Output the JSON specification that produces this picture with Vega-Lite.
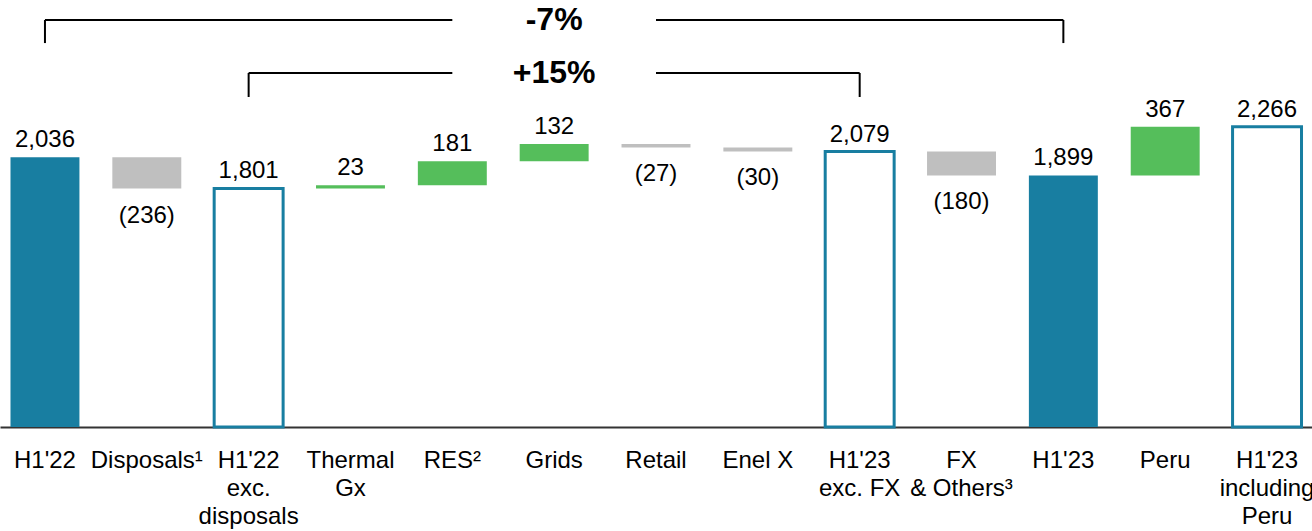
{
  "$schema": "https://vega.github.io/schema/vega-lite/v6.json",
  "width": 1312,
  "height": 427,
  "padding": {"left": 0, "top": 0, "right": 0, "bottom": 104},
  "autosize": {"type": "none"},
  "config": {"view": {"stroke": null}, "font": "Liberation Sans"},
  "datasets": {
    "bars": [
      {"cat": "H1'22", "start": 0, "end": 2036, "kind": "total", "label": "2,036"},
      {"cat": "Disposals¹", "start": 2036, "end": 1800, "kind": "down", "label": "(236)"},
      {"cat": "H1'22|exc.|disposals", "start": 0, "end": 1801, "kind": "outline", "label": "1,801"},
      {"cat": "Thermal|Gx", "start": 1801, "end": 1824, "kind": "up", "label": "23"},
      {"cat": "RES²", "start": 1824, "end": 2005, "kind": "up", "label": "181"},
      {"cat": "Grids", "start": 2005, "end": 2137, "kind": "up", "label": "132"},
      {"cat": "Retail", "start": 2137, "end": 2110, "kind": "down", "label": "(27)"},
      {"cat": "Enel X", "start": 2110, "end": 2080, "kind": "down", "label": "(30)"},
      {"cat": "H1'23|exc. FX", "start": 0, "end": 2079, "kind": "outline", "label": "2,079"},
      {"cat": "FX|& Others³", "start": 2079, "end": 1899, "kind": "down", "label": "(180)"},
      {"cat": "H1'23", "start": 0, "end": 1899, "kind": "total", "label": "1,899"},
      {"cat": "Peru", "start": 1899, "end": 2266, "kind": "up", "label": "367"},
      {"cat": "H1'23|including|Peru", "start": 0, "end": 2266, "kind": "outline", "label": "2,266"}
    ],
    "brackets": [
      {"cat": "H1'22", "cat2": "H1'22", "y": 3072, "y2": 2898},
      {"cat": "H1'22", "cat2": "RES²", "y": 3072, "y2": 3072},
      {"cat": "Retail", "cat2": "H1'23", "y": 3072, "y2": 3072},
      {"cat": "H1'23", "cat2": "H1'23", "y": 3072, "y2": 2898},
      {"cat": "H1'22|exc.|disposals", "cat2": "H1'22|exc.|disposals", "y": 2672, "y2": 2491},
      {"cat": "H1'22|exc.|disposals", "cat2": "RES²", "y": 2672, "y2": 2672},
      {"cat": "Retail", "cat2": "H1'23|exc. FX", "y": 2672, "y2": 2672},
      {"cat": "H1'23|exc. FX", "cat2": "H1'23|exc. FX", "y": 2672, "y2": 2491}
    ],
    "pcts": [
      {"cat": "Grids", "y": 3072, "t": "-7%"},
      {"cat": "Grids", "y": 2672, "t": "+15%"}
    ]
  },
  "encoding": {
    "x": {
      "field": "cat",
      "type": "nominal",
      "scale": {
        "domain": ["H1'22", "Disposals¹", "H1'22|exc.|disposals", "Thermal|Gx", "RES²", "Grids", "Retail", "Enel X", "H1'23|exc. FX", "FX|& Others³", "H1'23", "Peru", "H1'23|including|Peru"],
        "paddingInner": 0.323,
        "paddingOuter": 0.103
      },
      "axis": {
        "title": null,
        "labelAngle": 0,
        "ticks": false,
        "domainColor": "#333333",
        "domainWidth": 2,
        "labelFont": "Liberation Sans",
        "labelFontSize": 24,
        "labelColor": "#000000",
        "labelPadding": 21,
        "labelLineHeight": 28,
        "labelBaseline": "top",
        "labelOverlap": false,
        "labelLimit": 400,
        "labelExpr": "split(datum.label, '|')"
      }
    }
  },
  "layer": [
    {
      "data": {"name": "bars"},
      "transform": [{"filter": "datum.kind != 'outline'"}],
      "mark": {"type": "bar"},
      "encoding": {
        "y": {"field": "start", "type": "quantitative", "scale": {"domain": [0, 3223], "nice": false, "zero": true}, "axis": null},
        "y2": {"field": "end"},
        "color": {
          "field": "kind",
          "type": "nominal",
          "scale": {"domain": ["total", "up", "down"], "range": ["#187EA1", "#55BE5B", "#BFBFBF"]},
          "legend": null
        }
      }
    },
    {
      "data": {"name": "bars"},
      "transform": [{"filter": "datum.kind == 'outline'"}],
      "mark": {"type": "bar", "fill": "#FFFFFF", "stroke": "#187EA1", "strokeWidth": 3},
      "encoding": {
        "y": {"field": "start", "type": "quantitative"},
        "y2": {"field": "end"}
      }
    },
    {
      "data": {"name": "bars"},
      "transform": [{"filter": "datum.kind != 'down'"}],
      "mark": {"type": "text", "baseline": "alphabetic", "dy": -10, "fontSize": 24, "font": "Liberation Sans", "color": "#000000"},
      "encoding": {
        "y": {"field": "end", "type": "quantitative"},
        "text": {"field": "label"}
      }
    },
    {
      "data": {"name": "bars"},
      "transform": [{"filter": "datum.kind == 'down'"}],
      "mark": {"type": "text", "baseline": "alphabetic", "dy": 34, "fontSize": 24, "font": "Liberation Sans", "color": "#000000"},
      "encoding": {
        "y": {"field": "end", "type": "quantitative"},
        "text": {"field": "label"}
      }
    },
    {
      "data": {"name": "brackets"},
      "mark": {"type": "rule", "color": "#000000", "strokeWidth": 2},
      "encoding": {
        "x2": {"field": "cat2"},
        "y": {"field": "y", "type": "quantitative"},
        "y2": {"field": "y2"}
      }
    },
    {
      "data": {"name": "pcts"},
      "mark": {"type": "text", "baseline": "middle", "fontSize": 32, "fontWeight": "bold", "font": "Liberation Sans", "color": "#000000"},
      "encoding": {
        "y": {"field": "y", "type": "quantitative"},
        "text": {"field": "t"}
      }
    }
  ]
}
